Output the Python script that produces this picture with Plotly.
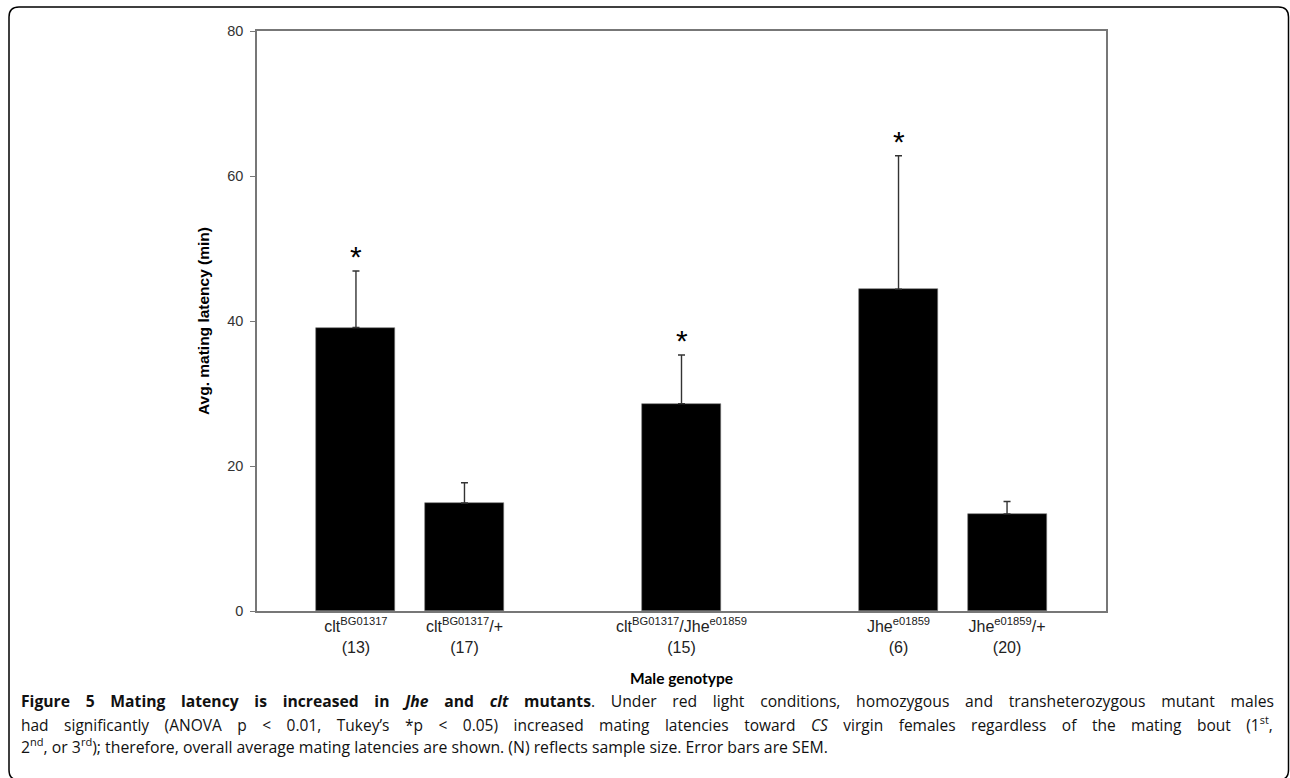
import plotly.graph_objects as go

# ---- data ----
genotypes = ["clt<sup>BG01317</sup>", "clt<sup>BG01317</sup>/+", "clt<sup>BG01317</sup>/Jhe<sup>e01859</sup>",
             "Jhe<sup>e01859</sup>", "Jhe<sup>e01859</sup>/+"]
sample_sizes = [13, 17, 15, 6, 20]
latency_mean = [39.1, 14.9, 28.6, 44.4, 13.4]
latency_sem = [7.8, 2.8, 6.7, 18.4, 1.7]
significant = [True, False, True, True, False]
y_ticks = [0, 20, 40, 60, 80]

# ---- layout geometry (pixels) ----
W, H = 1290, 778
L, R, T, B = 257, 1106, 31, 611
slot = [0, 1, 3, 5, 6]          # horizontal slot of each genotype (gaps between groups)

def px(x):
    return (x - L) / (R - L)

def py(y):
    return (B - y) / (B - T)

ticktext = [f"{g}<br>({n})" for g, n in zip(genotypes, sample_sizes)]

fig = go.Figure()
fig.add_trace(go.Bar(
    x=slot, y=latency_mean, width=0.728,
    marker=dict(color="black", line=dict(color="#777777", width=0.6)),
    error_y=dict(type="data", array=latency_sem, arrayminus=[0] * len(latency_sem),
                 symmetric=False, color="#333333", thickness=1.4, width=3.5),
    showlegend=False, hoverinfo="skip",
))

for s, m, e, sig in zip(slot, latency_mean, latency_sem, significant):
    if sig:
        fig.add_annotation(x=s, y=m + e, text="*", showarrow=False, xref="x", yref="y",
                           yanchor="bottom", yshift=-4,
                           font=dict(family="Liberation Sans, Arial", size=30, color="black"))

fig.update_xaxes(range=[-0.912, 6.912], tickmode="array", tickvals=slot, ticktext=ticktext,
                 showline=True, linecolor="#777777", linewidth=1.5, mirror=True,
                 ticks="", showgrid=False, zeroline=False,
                 tickfont=dict(family="Liberation Sans, Arial", size=16, color="#222222"),
                 title=dict(text="<b>Male genotype</b>", standoff=18,
                            font=dict(family="Lato, Open Sans", size=15.5, color="black")))
fig.update_yaxes(range=[0, 80], tickmode="array", tickvals=y_ticks,
                 showline=True, linecolor="#777777", linewidth=1.5, mirror=True,
                 ticks="outside", ticklen=5, tickcolor="#777777", tickwidth=1.2,
                 ticklabelstandoff=4,
                 showgrid=False, zeroline=False,
                 tickfont=dict(family="Liberation Sans, Arial", size=14.5, color="#333333"),
                 title=dict(text="<b>Avg. mating latency (min)</b>", standoff=14,
                            font=dict(family="Liberation Sans, Arial", size=15.5, color="black")))

# outer rounded frame
x0, y0, x1, y1, r = 9, 7, 1288.5, 780, 10
path = (f"M {px(x0)},{py(y0 + r)} Q {px(x0)},{py(y0)} {px(x0 + r)},{py(y0)} "
        f"L {px(x1 - r)},{py(y0)} Q {px(x1)},{py(y0)} {px(x1)},{py(y0 + r)} "
        f"L {px(x1)},{py(y1 - r)} Q {px(x1)},{py(y1)} {px(x1 - r)},{py(y1)} "
        f"L {px(x0 + r)},{py(y1)} Q {px(x0)},{py(y1)} {px(x0)},{py(y1 - r)} Z")
fig.add_shape(type="path", path=path, xref="paper", yref="paper",
              line=dict(color="black", width=1.5), fillcolor="rgba(0,0,0,0)")

EM = "\u2003"
caption = [
    ("<b>Figure 5 Mating latency is increased in <i>Jhe</i> and <i>clt</i> mutants</b>. Under red light conditions, "
     "homozygous and transheterozygous mutant males", True, 15.7),
    ("had significantly (ANOVA p &lt; 0.01, Tukey’s *p &lt; 0.05) increased mating latencies toward <i>CS</i> "
     "virgin females regardless of the mating bout (1<sup>st</sup>,", True, 15.5),
    ("2<sup>nd</sup>, or 3<sup>rd</sup>); therefore, overall average mating latencies are shown. "
     "(N) reflects sample size. Error bars are SEM.", False, 15.8),
]
for i, (line, justify, fsize) in enumerate(caption):
    txt = line.replace(" ", EM) if justify else line
    fig.add_annotation(x=px(19), y=py(701 + 22.5 * i), xref="paper", yref="paper",
                       xanchor="left", yanchor="middle", showarrow=False, text=txt,
                       font=dict(family="Open Sans", size=fsize, color="#111111"))

fig.update_layout(width=W, height=H, margin=dict(l=L, r=W - R, t=T, b=H - B),
                  plot_bgcolor="white", paper_bgcolor="white", bargap=0)

fig.write_html("out.html", config={"displayModeBar": False},
               post_script="document.body.style.margin='0px';")
